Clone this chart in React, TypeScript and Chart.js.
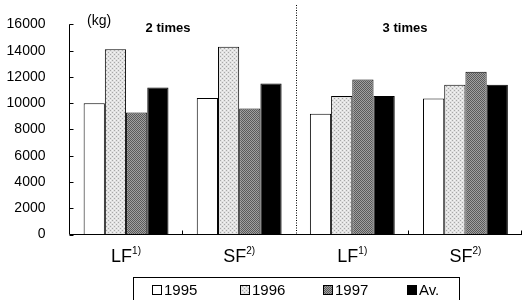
import React, { useEffect, useRef } from "react";
import { Chart, registerables } from "chart.js";

Chart.register(...registerables);

const categories = ["LF|1)", "SF|2)", "LF|1)", "SF|2)"];
const seriesNames = ["1995", "1996", "1997", "Av."];
const values1995 = [10000, 10400, 9200, 10350];
const values1996 = [14100, 14300, 10550, 11400];
const values1997 = [9300, 9600, 11800, 12400];
const valuesAv = [11200, 11500, 10550, 11400];
const yTicks = [0, 2000, 4000, 6000, 8000, 10000, 12000, 14000, 16000];
const groupTitles = ["2 times", "3 times"];
const unitLabel = "(kg)";

function makePattern(kind: string): CanvasPattern | string {
  const c = document.createElement("canvas");
  c.width = 4;
  c.height = 4;
  const g = c.getContext("2d");
  if (!g) return "#ccc";
  if (kind === "light") {
    g.fillStyle = "#e2e2e2";
    g.fillRect(0, 0, 4, 4);
    g.fillStyle = "#a8a8a8";
    g.fillRect(0, 0, 1, 1);
    g.fillRect(2, 2, 1, 1);
    g.fillStyle = "#f4f4f4";
    g.fillRect(2, 0, 1, 1);
    g.fillRect(0, 2, 1, 1);
  } else {
    g.fillStyle = "#a0a0a0";
    g.fillRect(0, 0, 4, 4);
    g.fillStyle = "#5a5a5a";
    g.fillRect(0, 0, 1, 1);
    g.fillRect(2, 0, 1, 1);
    g.fillRect(1, 1, 1, 1);
    g.fillRect(3, 1, 1, 1);
    g.fillRect(0, 2, 1, 1);
    g.fillRect(2, 2, 1, 1);
    g.fillRect(1, 3, 1, 1);
    g.fillRect(3, 3, 1, 1);
  }
  const p = g.createPattern(c, "repeat");
  return p || "#ccc";
}

const FONT = "'Liberation Sans', Arial, Helvetica, sans-serif";

export default function App() {
  const ref = useRef<HTMLCanvasElement | null>(null);

  useEffect(() => {
    document.body.style.margin = "0";
    const canvas = ref.current;
    if (!canvas) return;
    const fills: any[] = ["#ffffff", makePattern("light"), makePattern("dark"), "#000000"];
    const allValues = [values1995, values1996, values1997, valuesAv];

    const decor = {
      id: "decor",
      afterDraw(chart: any) {
        const ctx = chart.ctx;
        const x = chart.scales.x;
        const y = chart.scales.y;
        const ca = chart.chartArea;
        ctx.save();
        ctx.strokeStyle = "#000";
        ctx.lineWidth = 1;
        // y axis line and inward ticks
        ctx.beginPath();
        ctx.moveTo(ca.left, y.getPixelForValue(16000));
        ctx.lineTo(ca.left, ca.bottom);
        yTicks.forEach((t) => {
          const py = Math.round(y.getPixelForValue(t)) + 0.5;
          ctx.moveTo(ca.left, py);
          ctx.lineTo(ca.left + 4, py);
        });
        // x axis line and ticks
        ctx.moveTo(ca.left, ca.bottom);
        ctx.lineTo(ca.right, ca.bottom);
        [0.5, 2.5, 3.5].forEach((v) => {
          const px = Math.round(x.getPixelForValue(v)) - 0.5;
          ctx.moveTo(px, ca.bottom);
          ctx.lineTo(px, ca.bottom - 4);
        });
        ctx.stroke();
        // dotted divider
        ctx.beginPath();
        ctx.setLineDash([1, 1.5]);
        const dx = Math.round(x.getPixelForValue(1.5)) + 0.5;
        ctx.moveTo(dx, 5);
        ctx.lineTo(dx, ca.bottom);
        ctx.stroke();
        ctx.setLineDash([]);

        // texts
        ctx.fillStyle = "#000";
        ctx.textBaseline = "alphabetic";
        ctx.textAlign = "left";
        ctx.font = `14px ${FONT}`;
        ctx.fillText(unitLabel, 87, 25);
        ctx.font = `bold 13px ${FONT}`;
        ctx.textAlign = "center";
        ctx.fillText(groupTitles[0], 168, 32);
        ctx.fillText(groupTitles[1], 405, 32);

        // category labels with superscripts
        categories.forEach((lab, i) => {
          const [main, sup] = lab.split("|");
          const cx = x.getPixelForValue(i);
          ctx.font = `18px ${FONT}`;
          const w1 = ctx.measureText(main).width;
          ctx.font = `10px ${FONT}`;
          const w2 = ctx.measureText(sup).width;
          const sx = cx - (w1 + w2) / 2;
          ctx.textAlign = "left";
          ctx.font = `18px ${FONT}`;
          ctx.fillText(main, sx, 262);
          ctx.font = `10px ${FONT}`;
          ctx.fillText(sup, sx + w1, 254);
        });

        // legend box
        ctx.strokeRect(133.5, 277.5, 326, 30);
        const legendX = [152, 240, 323, 407];
        ctx.font = `15px ${FONT}`;
        seriesNames.forEach((n, i) => {
          const bx = legendX[i];
          ctx.fillStyle = fills[i];
          ctx.fillRect(bx, 285, 9, 9);
          ctx.strokeStyle = "#000";
          ctx.strokeRect(bx + 0.5, 285.5, 9, 9);
          ctx.fillStyle = "#000";
          ctx.textAlign = "left";
          ctx.fillText(n, bx + 12, 295);
        });
        ctx.restore();
      },
    };

    const chart = new Chart(canvas, {
      type: "bar",
      data: {
        labels: categories,
        datasets: seriesNames.map((n, i) => ({
          label: n,
          data: allValues[i],
          backgroundColor: fills[i],
          borderColor: "#000",
          borderWidth: 1,
          borderSkipped: "bottom",
          categoryPercentage: 0.75,
          barPercentage: 1,
        })),
      },
      options: {
        responsive: false,
        animation: false,
        layout: { padding: { top: 16, right: 5, left: 0, bottom: 0 } },
        plugins: {
          legend: { display: false },
          tooltip: { enabled: false },
        },
        scales: {
          x: {
            grid: { display: false },
            border: { display: false },
            ticks: { display: false },
            afterFit: (s: any) => {
              s.height = 65.5;
            },
          },
          y: {
            min: 0,
            max: 16000,
            grid: { display: false },
            border: { display: false },
            afterBuildTicks: (s: any) => {
              s.ticks = yTicks.map((v) => ({ value: v }));
            },
            ticks: {
              padding: 16,
              color: "#000",
              font: { family: FONT, size: 14 },
              callback: (v: any) => String(v),
            },
            afterFit: (s: any) => {
              s.width = 69.5;
            },
          },
        },
      },
      plugins: [decor],
    });
    return () => chart.destroy();
  }, []);

  return (
    <div style={{ width: 527, height: 300, background: "#fff" }}>
      <canvas ref={ref} width={527} height={300} />
    </div>
  );
}
